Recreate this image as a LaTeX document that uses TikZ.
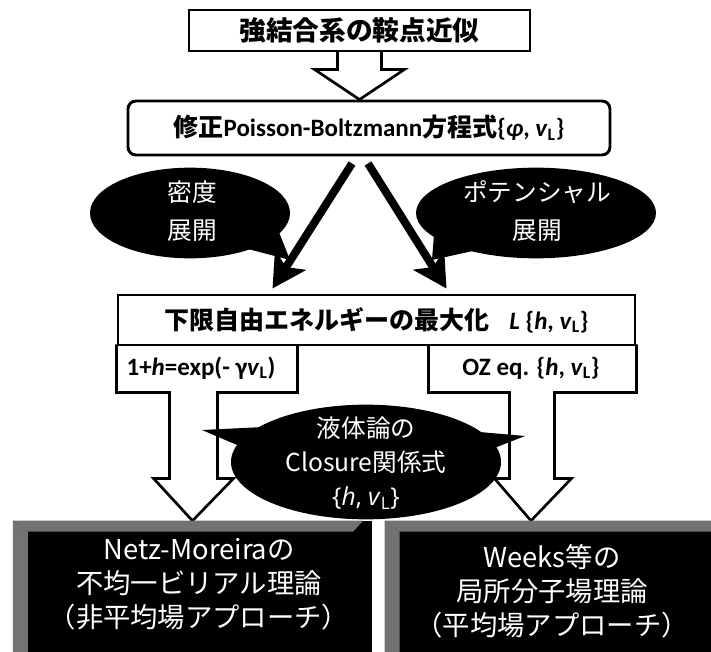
\documentclass[tikz,border=0pt]{standalone}
\usepackage{fontspec}
\setmainfont{Carlito}
\newfontfamily\jpfont{Noto Sans CJK JP}
\newfontfamily\osfont{Open Sans}
\usetikzlibrary{arrows.meta,shapes.geometric,calc}
\pgfdeclarelayer{bg}
\pgfsetlayers{bg,main}
\begin{document}
\begin{tikzpicture}[x=0.75pt,y=-0.75pt,
  box/.style={draw, line width=2.2pt, fill=white, inner sep=0pt, align=center},
  hollow/.style={draw, line width=2pt, fill=white, line join=miter},
  bigarrow/.style={line width=6pt, -{Stealth[length=25pt,width=27pt,inset=6pt]}},
  bubble/.style={ellipse, fill=black, inner sep=0pt},
  whitetext/.style={text=white, align=center, inner sep=0pt},
  darkbox/.style={fill=black, inner sep=0pt},
  bevel/.style={fill=black!55},
  bt/.style={font=\fontsize{18.75}{22}\selectfont}
]
\useasboundingbox (0,0) rectangle (711,652);

% boxes
\node[box, minimum width=255.75pt, minimum height=30.75pt, font=\jpfont\bfseries\fontsize{20}{24}\selectfont] (top) at (359.5,30.5) {強結合系の鞍点近似};

\node[box, rounded corners=6pt, minimum width=361.5pt, minimum height=40.5pt, bt] (pb) at (369,128)
 {{\jpfont\bfseries 修正}\textbf{Poisson-Boltzmann}{\jpfont\bfseries 方程式}\textbf{\{\textit{φ}, \textit{v}\textsubscript{L}\}}};

\node[box, minimum width=387.75pt, minimum height=37.5pt, bt] (low) at (376.5,320)
 {{\jpfont\bfseries 下限自由エネルギーの最大化}\hspace{15pt}\textbf{\textit{L} \{\textit{h}, \textit{v}\textsubscript{L}\}}};

% dark boxes
\node[darkbox, minimum width=269pt, minimum height=98.25pt] (nm) at (192.5,586.5) {};
\node[darkbox, minimum width=244.5pt, minimum height=98.25pt] (wk) at (548,586.5) {};
\fill[bevel] (nm.north west) -- ($(nm.north east)+(-9,0)$) -- ($(nm.north east)+(-19,11)$) -- ($(nm.north west)+(15,11)$) -- cycle;
\fill[bevel] (nm.north west) -- ($(nm.north west)+(15,11)$) -- ($(nm.south west)+(15,0)$) -- (nm.south west) -- cycle;
\fill[bevel] (wk.north west) -- (wk.north east) -- ($(wk.north east)+(0,11)$) -- ($(wk.north west)+(15,11)$) -- cycle;
\fill[bevel] (wk.north west) -- ($(wk.north west)+(15,11)$) -- ($(wk.south west)+(15,0)$) -- (wk.south west) -- cycle;
\node[whitetext, font=\jpfont\fontsize{20.5}{25.5}\selectfont] (nmt) at (199,584) {Netz-Moreiraの\\不均一ビリアル理論\\（非平均場アプローチ）};
\node[whitetext, font=\jpfont\fontsize{20.5}{25.5}\selectfont] (wkt) at (552,591) {Weeks等の\\局所分子場理論\\（平均場アプローチ）};

% hollow arrows
\coordinate (la) at (low.south west);
\coordinate (ra) at (low.south east);
\begin{pgfonlayer}{bg}
\draw[hollow] ($(top.south)+(-22,-2)$) -- ($(top.south)+(-22,17)$) -- ($(top.south)+(-45,17)$) -- (top.south |- pb.north) -- ($(top.south)+(45,17)$) -- ($(top.south)+(22,17)$) -- ($(top.south)+(22,-2)$);
\draw[hollow] ($(la)+(0,-2)$) -- ($(la)+(0,46)$) -- ($(la)+(53,46)$) -- ($(la)+(53,132)$) -- ($(la)+(37,132)$) -- (nm.north) -- ($(la)+(117,132)$) -- ($(la)+(101,132)$) -- ($(la)+(101,46)$) -- ($(la)+(181,46)$) -- ($(la)+(181,-2)$);
\draw[hollow] ($(ra)+(0,-2)$) -- ($(ra)+(0,46)$) -- ($(ra)+(-82,46)$) -- ($(ra)+(-82,132)$) -- ($(ra)+(-65,132)$) -- ($(wk.north)+(-17,0)$) -- ($(ra)+(-142,132)$) -- ($(ra)+(-127,132)$) -- ($(ra)+(-127,46)$) -- ($(ra)+(-208,46)$) -- ($(ra)+(-208,-2)$);
\end{pgfonlayer}
\node[bt, inner sep=0pt] (l1) at (201,368) {\textbf{1+\textit{h}=exp(- γ\textit{v}\textsubscript{L})}};
\node[bt, inner sep=0pt] (l2) at (531,368) {\textbf{OZ eq. \{\textit{h}, \textit{v}\textsubscript{L}\}}};

% closure bubble
\node[bubble, minimum width=202.5pt, minimum height=86pt] (cl) at (366,462) {};
\fill ($(cl.158)!0.1!(cl.center)$) -- (202,430) -- ($(cl.174)!0.1!(cl.center)$) -- cycle;
\fill ($(cl.18)!0.1!(cl.center)$) -- (525,436) -- ($(cl.5)!0.1!(cl.center)$) -- cycle;
\node[whitetext, font=\jpfont\fontsize{18.5}{25.5}\selectfont] (clt) at (366,463) {液体論の\\Closure関係式\\{\osfont\{\textit{h}, \textit{v}\textsubscript{L}\}}};

% upper bubbles
\node[bubble, minimum width=150pt, minimum height=68pt] (den) at (190,213) {};
\node[bubble, minimum width=180pt, minimum height=68pt] (pot) at (536,213) {};
\fill ($(den.-8)!0.1!(den.center)$) -- (290,260) -- ($(den.-34)!0.1!(den.center)$) -- cycle;
\fill ($(pot.-172)!0.1!(pot.center)$) -- (432,260) -- ($(pot.-146)!0.1!(pot.center)$) -- cycle;
\node[whitetext, font=\jpfont\fontsize{18.5}{28}\selectfont] (dent) at (192,211) {密度\\展開};
\node[whitetext, font=\jpfont\fontsize{18.5}{28}\selectfont] (pott) at (537,211) {ポテンシャル\\展開};

% thick arrows
\draw[bigarrow] ($(pb.south)+(-17,7)$) -- ($(low.north)+(-104,-5)$);
\draw[bigarrow] ($(pb.south)+(-1,7)$) -- ($(low.north)+(70,-5)$);
\end{tikzpicture}
\end{document}
